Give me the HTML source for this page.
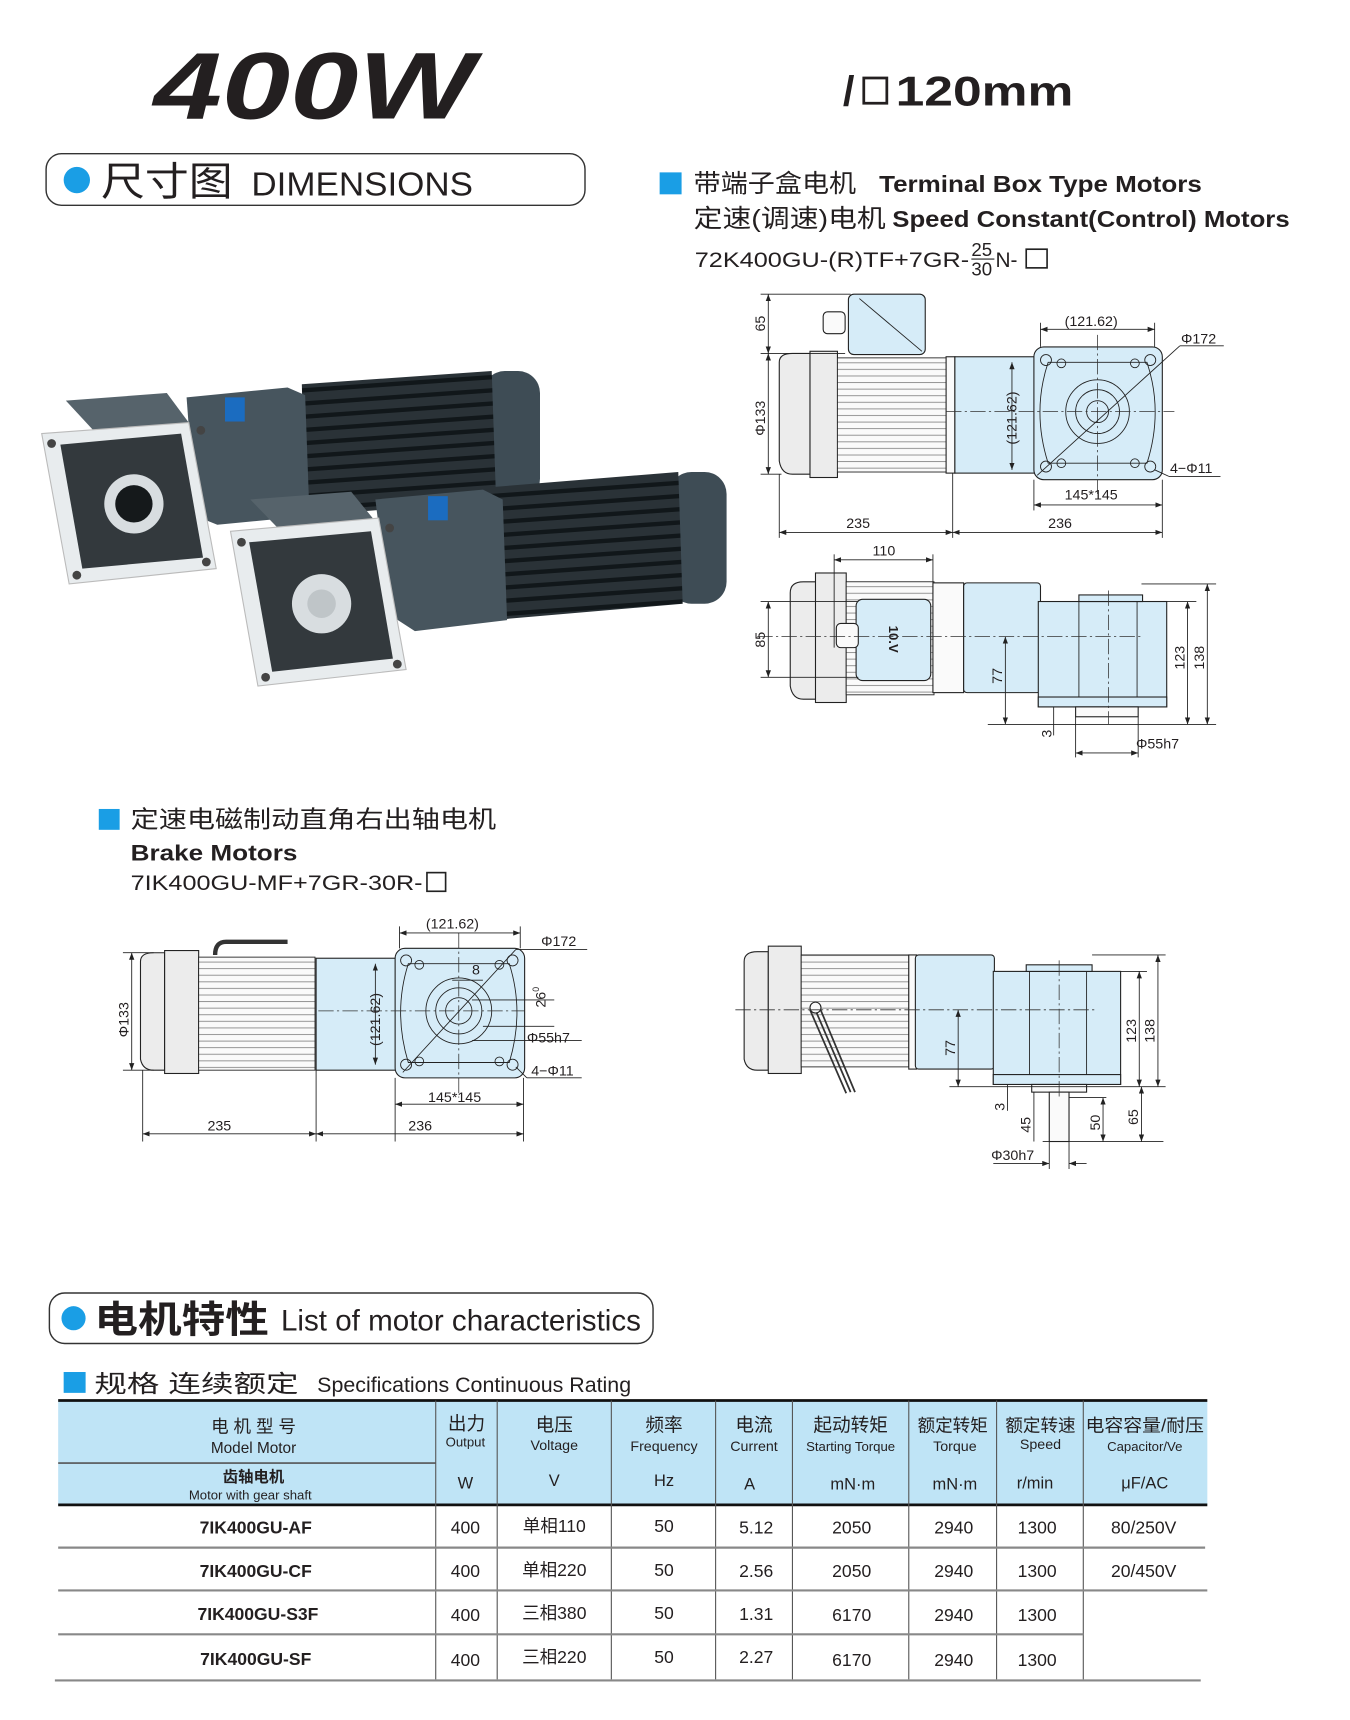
<!DOCTYPE html>
<html><head><meta charset="utf-8"><style>
html,body{margin:0;padding:0;background:#fff;}
svg{display:block}
text{font-family:"Liberation Sans","Noto Sans CJK SC",sans-serif;fill:#231f20}
.t{font-size:13px}
.ln{stroke:#222;stroke-width:0.8;fill:none}
.cl{stroke:#333;stroke-width:0.7;stroke-dasharray:14 3 2 3;fill:none}
.bl{fill:#d6ecf8;stroke:#222;stroke-width:1}
.gr{fill:#ececec;stroke:#222;stroke-width:1}
.wh{fill:#fafafa;stroke:#222;stroke-width:1}
</style></head><body>
<svg width="1350" height="1720" viewBox="0 0 1230 1567" xmlns="http://www.w3.org/2000/svg">
<defs>
<marker id="a" markerWidth="8" markerHeight="6" refX="8" refY="3" orient="auto-start-reverse"><path d="M0,0 L8,3 L0,6z" fill="#222"/></marker>
<pattern id="fin" width="6" height="6" patternUnits="userSpaceOnUse"><rect width="6" height="6" fill="#fafafa"/><line x1="0" y1="0.5" x2="6" y2="0.5" stroke="#888" stroke-width="0.8"/></pattern>
<pattern id="dfin" width="10" height="12" patternUnits="userSpaceOnUse" patternTransform="rotate(-4)"><rect width="10" height="12" fill="#2a3237"/><rect y="0" width="10" height="4" fill="#11171a"/></pattern>
</defs>

<!-- Title -->
<text x="140" y="108" textLength="292" lengthAdjust="spacingAndGlyphs" style="font-size:86px;font-weight:bold;font-style:italic">400W</text>
<text x="768" y="96" style="font-size:38px;font-weight:bold">/</text>
<rect x="787" y="71" width="21" height="23" fill="none" stroke="#231f20" stroke-width="2.5"/>
<text x="816" y="96" textLength="162" lengthAdjust="spacingAndGlyphs" style="font-size:38px;font-weight:bold">120mm</text>

<!-- Dimensions pill -->
<rect x="42" y="140" width="491" height="47" rx="14" fill="#fff" stroke="#333" stroke-width="1.3"/>
<circle cx="70" cy="164" r="12" fill="#1a9ee5"/>
<text x="92" y="178" textLength="120" lengthAdjust="spacingAndGlyphs" style="font-size:36px">尺寸图</text>
<text x="229" y="178" textLength="202" lengthAdjust="spacingAndGlyphs" style="font-size:30px">DIMENSIONS</text>

<!-- right header -->
<rect x="601" y="157" width="20" height="20" fill="#1a9ee5"/>
<text x="632" y="175" style="font-size:23px" textLength="148" lengthAdjust="spacingAndGlyphs">带端子盒电机</text>
<text x="801" y="175" style="font-size:21px;font-weight:bold" textLength="294" lengthAdjust="spacingAndGlyphs">Terminal Box Type Motors</text>
<text x="632" y="207" style="font-size:23px" textLength="175" lengthAdjust="spacingAndGlyphs">定速(调速)电机</text>
<text x="813" y="207" style="font-size:21px;font-weight:bold" textLength="362" lengthAdjust="spacingAndGlyphs">Speed Constant(Control) Motors</text>
<text x="633" y="243" style="font-size:19px" textLength="250" lengthAdjust="spacingAndGlyphs">72K400GU-(R)TF+7GR-</text>
<text x="885" y="233" style="font-size:17px">25</text>
<line x1="885" y1="236" x2="906" y2="236" stroke="#222"/>
<text x="885" y="251" style="font-size:17px">30</text>
<text x="907" y="243" style="font-size:19px">N-</text>
<rect x="935" y="227" width="19" height="17" fill="none" stroke="#222" stroke-width="1.5"/>

<!-- Photo motor 1 (back) -->
<g>
<rect x="440" y="338" width="52" height="118" rx="20" fill="#3e4c55"/>
<path d="M275 350 L448 338 L452 456 L278 470z" fill="url(#dfin)"/>
<path d="M170 362 L262 353 L278 360 L282 470 L198 478 L178 470z" fill="#47555e"/>
<rect x="205" y="362" width="18" height="22" fill="#1b6cc0"/>
<path d="M60 365 L152 358 L172 385 L85 392z" fill="#56636b"/>
<path d="M38 395 L172 385 L197 518 L63 532z" fill="#e8ecee" stroke="#bbb"/>
<path d="M55 405 L165 395 L185 508 L75 518z" fill="#33393d"/>
<circle cx="122" cy="459" r="27" fill="#d8dde0"/><circle cx="122" cy="459" r="17" fill="#15191b"/>
<circle cx="47" cy="404" r="4" fill="#444"/><circle cx="183" cy="392" r="4" fill="#444"/><circle cx="70" cy="524" r="4" fill="#444"/><circle cx="188" cy="512" r="4" fill="#444"/>
</g>
<!-- Photo motor 2 (front) -->
<g>
<rect x="610" y="430" width="52" height="120" rx="20" fill="#3e4c55"/>
<path d="M445 444 L618 430 L622 550 L448 565z" fill="url(#dfin)"/>
<path d="M342 455 L440 446 L458 455 L462 565 L378 575 L355 560z" fill="#47555e"/>
<rect x="390" y="452" width="18" height="22" fill="#1b6cc0"/>
<path d="M228 455 L320 448 L342 475 L255 483z" fill="#56636b"/>
<path d="M210 484 L345 472 L370 610 L235 625z" fill="#e8ecee" stroke="#bbb"/>
<path d="M227 494 L338 484 L358 600 L248 612z" fill="#33393d"/>
<circle cx="293" cy="550" r="27" fill="#d8dde0"/><circle cx="293" cy="550" r="13" fill="#bfc5c8"/>
<circle cx="220" cy="494" r="4" fill="#444"/><circle cx="355" cy="481" r="4" fill="#444"/><circle cx="242" cy="617" r="4" fill="#444"/><circle cx="362" cy="605" r="4" fill="#444"/>
</g>

<!-- Drawing 1: side view -->
<g>
<rect x="773" y="268" width="70" height="55" rx="5" class="bl"/>
<line x1="783" y1="272" x2="840" y2="320" class="ln"/>
<rect x="750" y="284" width="20" height="20" rx="4" class="wh"/>
<path d="M710 330 Q710 322 722 322 L738 322 L738 432 L722 432 Q712 432 710 420z" class="gr"/>
<rect x="738" y="320" width="25" height="115" class="gr"/>
<rect x="763" y="326" width="100" height="104" fill="url(#fin)" stroke="#222" stroke-width="0.8"/>
<rect x="862" y="325" width="8" height="106" class="wh"/>
<rect x="870" y="325" width="73" height="106" class="bl"/>
<rect x="942" y="316" width="117" height="121" rx="9" class="bl"/>
<path d="M955 330 Q940 375 955 422 L1045 422 Q1060 375 1045 330z" class="ln"/>
<circle cx="1000" cy="375" r="29" class="ln"/><circle cx="1000" cy="375" r="20" class="ln"/><circle cx="1000" cy="375" r="10" class="ln"/>
<circle cx="953" cy="328" r="5" class="ln"/><circle cx="1048" cy="328" r="5" class="ln"/><circle cx="953" cy="425" r="5" class="ln"/><circle cx="1048" cy="425" r="5" class="ln"/>
<circle cx="967" cy="331" r="4" class="ln"/><circle cx="1034" cy="331" r="4" class="ln"/><circle cx="967" cy="422" r="4" class="ln"/><circle cx="1034" cy="422" r="4" class="ln"/>
<line x1="945" y1="433" x2="1075" y2="315" class="ln"/>
<line x1="1075" y1="315" x2="1115" y2="315" class="ln"/>
<line x1="1052" y1="428" x2="1065" y2="434" class="ln"/><line x1="1065" y1="434" x2="1112" y2="434" class="ln"/>
<line x1="862" y1="375" x2="1070" y2="375" class="cl"/><line x1="1000" y1="305" x2="1000" y2="450" class="cl"/>
<line x1="693" y1="268" x2="775" y2="268" class="ln"/><line x1="693" y1="322" x2="770" y2="322" class="ln"/><line x1="693" y1="432" x2="712" y2="432" class="ln"/>
<line x1="700" y1="268" x2="700" y2="322" class="ln" marker-start="url(#a)" marker-end="url(#a)"/>
<line x1="700" y1="322" x2="700" y2="432" class="ln" marker-start="url(#a)" marker-end="url(#a)"/>
<text class="t" transform="translate(697,302) rotate(-90)">65</text>
<text class="t" transform="translate(697,397) rotate(-90)">Φ133</text>
<line x1="922" y1="330" x2="922" y2="428" class="ln" marker-start="url(#a)" marker-end="url(#a)"/>
<text class="t" transform="translate(926,405) rotate(-90)">(121.62)</text>
<line x1="948" y1="300" x2="1052" y2="300" class="ln" marker-start="url(#a)" marker-end="url(#a)"/>
<line x1="948" y1="294" x2="948" y2="316" class="ln"/><line x1="1052" y1="294" x2="1052" y2="316" class="ln"/>
<text class="t" x="970" y="297">(121.62)</text>
<text class="t" x="1076" y="313">Φ172</text>
<text class="t" x="1066" y="431">4−Φ11</text>
<line x1="942" y1="437" x2="942" y2="465" class="ln"/><line x1="1059" y1="437" x2="1059" y2="490" class="ln"/>
<line x1="942" y1="460" x2="1059" y2="460" class="ln" marker-start="url(#a)" marker-end="url(#a)"/>
<text class="t" x="970" y="455">145*145</text>
<line x1="710" y1="432" x2="710" y2="490" class="ln"/><line x1="868" y1="431" x2="868" y2="490" class="ln"/>
<line x1="710" y1="485" x2="868" y2="485" class="ln" marker-start="url(#a)" marker-end="url(#a)"/>
<line x1="868" y1="485" x2="1059" y2="485" class="ln" marker-start="url(#a)" marker-end="url(#a)"/>
<text class="t" x="771" y="481">235</text><text class="t" x="955" y="481">236</text>
</g>

<!-- Drawing 2: top view -->
<g>
<path d="M720 540 Q720 530 732 530 L744 530 L744 637 L732 637 Q722 637 720 625z" class="gr"/>
<rect x="743" y="522" width="28" height="118" class="gr"/>
<rect x="771" y="530" width="80" height="103" fill="url(#fin)" stroke="#222" stroke-width="0.8"/>
<rect x="780" y="546" width="68" height="74" rx="6" class="bl"/>
<text transform="translate(810,570) rotate(90)" style="font-size:12px;font-weight:bold">10.V</text>
<rect x="762" y="568" width="20" height="22" rx="4" class="wh"/>
<rect x="850" y="531" width="28" height="100" class="wh"/>
<rect x="878" y="531" width="70" height="100" rx="3" class="bl"/>
<rect x="946" y="548" width="117" height="96" class="bl"/>
<rect x="946" y="635" width="117" height="9" class="bl"/>
<rect x="983" y="542" width="58" height="6" class="bl"/>
<line x1="983" y1="548" x2="983" y2="635" class="ln"/><line x1="1036" y1="548" x2="1036" y2="635" class="ln"/>
<rect x="980" y="644" width="57" height="9" class="wh"/>
<line x1="690" y1="580" x2="1040" y2="580" class="cl"/><line x1="1010" y1="538" x2="1010" y2="660" class="cl"/>
<line x1="760" y1="505" x2="760" y2="590" class="ln"/><line x1="850" y1="505" x2="850" y2="540" class="ln"/>
<line x1="760" y1="510" x2="850" y2="510" class="ln" marker-start="url(#a)" marker-end="url(#a)"/>
<text class="t" x="795" y="506">110</text>
<line x1="693" y1="548" x2="782" y2="548" class="ln"/><line x1="693" y1="617" x2="782" y2="617" class="ln"/>
<line x1="700" y1="548" x2="700" y2="617" class="ln" marker-start="url(#a)" marker-end="url(#a)"/>
<text class="t" transform="translate(697,590) rotate(-90)">85</text>
<line x1="916" y1="580" x2="916" y2="660" class="ln" marker-start="url(#a)" marker-end="url(#a)"/>
<text class="t" transform="translate(913,623) rotate(-90)">77</text>
<line x1="900" y1="660" x2="1108" y2="660" class="ln"/>
<line x1="1063" y1="548" x2="1090" y2="548" class="ln"/><line x1="1040" y1="532" x2="1108" y2="532" class="ln"/>
<line x1="1082" y1="548" x2="1082" y2="660" class="ln" marker-start="url(#a)" marker-end="url(#a)"/>
<line x1="1100" y1="532" x2="1100" y2="660" class="ln" marker-start="url(#a)" marker-end="url(#a)"/>
<text class="t" transform="translate(1079,610) rotate(-90)">123</text>
<text class="t" transform="translate(1097,610) rotate(-90)">138</text>
<line x1="960" y1="644" x2="960" y2="670" class="ln"/>
<text class="t" transform="translate(958,672) rotate(-90)">3</text>
<line x1="980" y1="653" x2="980" y2="690" class="ln"/><line x1="1037" y1="653" x2="1037" y2="690" class="ln"/>
<line x1="980" y1="686" x2="1037" y2="686" class="ln" marker-start="url(#a)" marker-end="url(#a)"/>
<text class="t" x="1035" y="682">Φ55h7</text>
</g>

<!-- Brake header -->
<rect x="90" y="737" width="19" height="19" fill="#1a9ee5"/>
<text x="119" y="754" style="font-size:22px" textLength="333" lengthAdjust="spacingAndGlyphs">定速电磁制动直角右出轴电机</text>
<text x="119" y="784" style="font-size:20px;font-weight:bold" textLength="152" lengthAdjust="spacingAndGlyphs">Brake Motors</text>
<text x="119" y="811" style="font-size:19px" textLength="266" lengthAdjust="spacingAndGlyphs">7IK400GU-MF+7GR-30R-</text>
<rect x="389" y="795" width="17" height="17" fill="none" stroke="#222" stroke-width="1.5"/>

<!-- Brake drawing left -->
<g>
<path d="M196 870 Q196 858 206 858 L262 858" stroke="#333" stroke-width="4" fill="none"/>
<path d="M128 876 Q128 868 140 868 L150 868 L150 975 L140 975 Q130 975 128 965z" class="gr"/>
<rect x="150" y="866" width="31" height="112" class="gr"/>
<rect x="181" y="872" width="106" height="103" fill="url(#fin)" stroke="#222" stroke-width="0.8"/>
<rect x="288" y="873" width="73" height="102" class="bl"/>
<rect x="360" y="864" width="118" height="118" rx="9" class="bl"/>
<path d="M372 878 Q358 922 372 968 L464 968 Q478 922 464 878z" class="ln"/>
<circle cx="418" cy="921" r="30" class="ln"/><circle cx="418" cy="921" r="21" class="ln"/><circle cx="418" cy="921" r="12" class="ln"/>
<circle cx="370" cy="875" r="5" class="ln"/><circle cx="467" cy="875" r="5" class="ln"/><circle cx="370" cy="970" r="5" class="ln"/><circle cx="467" cy="970" r="5" class="ln"/>
<circle cx="382" cy="879" r="4" class="ln"/><circle cx="455" cy="879" r="4" class="ln"/><circle cx="382" cy="967" r="4" class="ln"/><circle cx="455" cy="967" r="4" class="ln"/>
<line x1="367" y1="977" x2="470" y2="865" class="ln"/><line x1="470" y1="865" x2="535" y2="865" class="ln"/>
<line x1="470" y1="972" x2="480" y2="982" class="ln"/><line x1="480" y1="982" x2="530" y2="982" class="ln"/>
<line x1="290" y1="921" x2="478" y2="921" class="cl"/><line x1="418" y1="850" x2="418" y2="1000" class="cl"/>
<line x1="112" y1="868" x2="140" y2="868" class="ln"/><line x1="112" y1="975" x2="140" y2="975" class="ln"/>
<line x1="120" y1="868" x2="120" y2="975" class="ln" marker-start="url(#a)" marker-end="url(#a)"/>
<text class="t" transform="translate(117,945) rotate(-90)">Φ133</text>
<line x1="342" y1="878" x2="342" y2="970" class="ln" marker-start="url(#a)" marker-end="url(#a)"/>
<text class="t" transform="translate(346,953) rotate(-90)">(121.62)</text>
<line x1="364" y1="850" x2="474" y2="850" class="ln" marker-start="url(#a)" marker-end="url(#a)"/>
<line x1="364" y1="844" x2="364" y2="864" class="ln"/><line x1="474" y1="844" x2="474" y2="864" class="ln"/>
<text class="t" x="388" y="846">(121.62)</text>
<text class="t" x="493" y="862">Φ172</text>
<text class="t" x="430" y="888">8</text>
<line x1="412" y1="893" x2="440" y2="893" class="ln"/>
<line x1="430" y1="911" x2="505" y2="911" class="ln"/><line x1="440" y1="935" x2="505" y2="935" class="ln"/>
<text class="t" transform="translate(497,918) rotate(-90)">26<tspan style="font-size:8px" dy="-6">0</tspan></text>
<line x1="430" y1="948" x2="530" y2="948" class="ln"/>
<text class="t" x="480" y="950">Φ55h7</text>
<text class="t" x="484" y="980">4−Φ11</text>
<line x1="360" y1="982" x2="360" y2="1040" class="ln"/><line x1="477" y1="982" x2="477" y2="1040" class="ln"/>
<line x1="360" y1="1006" x2="477" y2="1006" class="ln" marker-start="url(#a)" marker-end="url(#a)"/>
<text class="t" x="390" y="1004">145*145</text>
<line x1="130" y1="975" x2="130" y2="1040" class="ln"/><line x1="288" y1="975" x2="288" y2="1040" class="ln"/>
<line x1="130" y1="1033" x2="288" y2="1033" class="ln" marker-start="url(#a)" marker-end="url(#a)"/>
<line x1="288" y1="1033" x2="477" y2="1033" class="ln" marker-start="url(#a)" marker-end="url(#a)"/>
<text class="t" x="189" y="1030">235</text><text class="t" x="372" y="1030">236</text>
</g>

<!-- Brake drawing right -->
<g>
<path d="M678 876 Q678 867 690 867 L700 867 L700 975 L690 975 Q680 975 678 965z" class="gr"/>
<rect x="700" y="862" width="30" height="116" class="gr"/>
<rect x="730" y="870" width="98" height="102" fill="url(#fin)" stroke="#222" stroke-width="0.8"/>
<rect x="828" y="870" width="7" height="104" class="wh"/>
<rect x="834" y="870" width="72" height="104" rx="3" class="bl"/>
<rect x="905" y="885" width="116" height="103" class="bl"/>
<rect x="905" y="979" width="116" height="9" class="bl"/>
<rect x="935" y="879" width="60" height="6" class="bl"/>
<line x1="938" y1="885" x2="938" y2="979" class="ln"/><line x1="990" y1="885" x2="990" y2="979" class="ln"/>
<rect x="940" y="988" width="50" height="7" class="wh"/>
<rect x="956" y="995" width="18" height="45" class="wh"/>
<path d="M742 918 L775 995 M746 916 L779 995 M738 920 L771 996" stroke="#333" stroke-width="1.6" fill="none"/>
<circle cx="743" cy="918" r="5" class="wh"/>
<line x1="670" y1="920" x2="1000" y2="920" class="cl"/><line x1="965" y1="875" x2="965" y2="1000" class="cl"/>
<line x1="873" y1="920" x2="873" y2="990" class="ln" marker-start="url(#a)" marker-end="url(#a)"/>
<text class="t" transform="translate(870,962) rotate(-90)">77</text>
<line x1="865" y1="990" x2="1062" y2="990" class="ln"/>
<line x1="1021" y1="885" x2="1045" y2="885" class="ln"/><line x1="995" y1="870" x2="1062" y2="870" class="ln"/>
<line x1="1038" y1="885" x2="1038" y2="990" class="ln" marker-start="url(#a)" marker-end="url(#a)"/>
<line x1="1055" y1="870" x2="1055" y2="990" class="ln" marker-start="url(#a)" marker-end="url(#a)"/>
<text class="t" transform="translate(1035,950) rotate(-90)">123</text>
<text class="t" transform="translate(1052,950) rotate(-90)">138</text>
<line x1="918" y1="988" x2="918" y2="1012" class="ln"/>
<text class="t" transform="translate(915,1012) rotate(-90)">3</text>
<line x1="942" y1="995" x2="942" y2="1040" class="ln"/>
<text class="t" transform="translate(939,1032) rotate(-90)">45</text>
<line x1="974" y1="1000" x2="1008" y2="1000" class="ln"/><line x1="950" y1="1040" x2="1060" y2="1040" class="ln"/>
<line x1="1005" y1="1000" x2="1005" y2="1040" class="ln" marker-start="url(#a)" marker-end="url(#a)"/>
<text class="t" transform="translate(1002,1030) rotate(-90)">50</text>
<line x1="1040" y1="990" x2="1040" y2="1040" class="ln" marker-start="url(#a)" marker-end="url(#a)"/>
<text class="t" transform="translate(1037,1025) rotate(-90)">65</text>
<line x1="956" y1="1040" x2="956" y2="1065" class="ln"/><line x1="974" y1="1040" x2="974" y2="1065" class="ln"/>
<line x1="905" y1="1060" x2="956" y2="1060" class="ln" marker-end="url(#a)"/>
<line x1="990" y1="1060" x2="974" y2="1060" class="ln" marker-end="url(#a)"/>
<text class="t" x="903" y="1057">Φ30h7</text>
</g>

<!-- Motor characteristics pill -->
<rect x="45" y="1178" width="550" height="46" rx="14" fill="#fff" stroke="#333" stroke-width="1.3"/>
<circle cx="67" cy="1201" r="11" fill="#1a9ee5"/>
<text x="86" y="1214" style="font-size:34px;font-weight:bold" textLength="159" lengthAdjust="spacingAndGlyphs">电机特性</text>
<text x="256" y="1212" style="font-size:27px" textLength="328" lengthAdjust="spacingAndGlyphs">List of motor characteristics</text>

<rect x="58" y="1250" width="20" height="19" fill="#1a9ee5"/>
<text x="86" y="1268" style="font-size:22px" textLength="186" lengthAdjust="spacingAndGlyphs">规格  连续额定</text>
<text x="289" y="1268" style="font-size:19px" textLength="286" lengthAdjust="spacingAndGlyphs">Specifications  Continuous Rating</text>

<!-- Table -->
<rect x="53" y="1276" width="1047" height="95" fill="#bfe4f6"/>
<line x1="53" y1="1276" x2="1100" y2="1276" stroke="#111" stroke-width="2.5"/>
<line x1="53" y1="1371" x2="1100" y2="1371" stroke="#111" stroke-width="2.5"/>
<line x1="53" y1="1333" x2="397" y2="1333" stroke="#555" stroke-width="1.5"/>
<g stroke="#555" stroke-width="1">
<line x1="397" y1="1276" x2="397" y2="1530"/><line x1="453" y1="1276" x2="453" y2="1530"/>
<line x1="557" y1="1276" x2="557" y2="1530"/><line x1="652" y1="1276" x2="652" y2="1530"/>
<line x1="722" y1="1276" x2="722" y2="1530"/><line x1="828" y1="1276" x2="828" y2="1530"/>
<line x1="908" y1="1276" x2="908" y2="1530"/><line x1="987" y1="1276" x2="987" y2="1530"/>
</g>
<g stroke="#888" stroke-width="2">
<line x1="53" y1="1410" x2="1098" y2="1410"/><line x1="53" y1="1449" x2="1100" y2="1449"/>
<line x1="53" y1="1489" x2="987" y2="1489"/><line x1="50" y1="1531" x2="1094" y2="1531"/>
</g>
<g text-anchor="middle">
<text x="231" y="1305" style="font-size:16px">电 机 型 号</text>
<text x="231" y="1324" style="font-size:14px">Model Motor</text>
<text x="231" y="1350" style="font-size:14px;font-weight:bold">齿轴电机</text>
<text x="228" y="1366" style="font-size:12px">Motor with gear shaft</text>
<text x="425" y="1303" style="font-size:17px">出力</text><text x="424" y="1318" style="font-size:12px">Output</text>
<text x="505" y="1304" style="font-size:17px">电压</text><text x="505" y="1321" style="font-size:13px">Voltage</text>
<text x="605" y="1304" style="font-size:17px">频率</text><text x="605" y="1322" style="font-size:13px">Frequency</text>
<text x="687" y="1304" style="font-size:17px">电流</text><text x="687" y="1322" style="font-size:13px">Current</text>
<text x="775" y="1304" style="font-size:17px">起动转矩</text><text x="775" y="1322" style="font-size:12px">Starting Torque</text>
<text x="868" y="1304" style="font-size:16px">额定转矩</text><text x="870" y="1322" style="font-size:13px">Torque</text>
<text x="948" y="1304" style="font-size:16px">额定转速</text><text x="948" y="1320" style="font-size:13px">Speed</text>
<text x="1043" y="1304" style="font-size:16px" textLength="108" lengthAdjust="spacingAndGlyphs">电容容量/耐压</text><text x="1043" y="1322" style="font-size:12px">Capacitor/Ve</text>
<text x="424" y="1356" style="font-size:15px">W</text><text x="505" y="1354" style="font-size:15px">V</text>
<text x="605" y="1354" style="font-size:15px">Hz</text><text x="683" y="1357" style="font-size:15px">A</text>
<text x="777" y="1357" style="font-size:15px">mN·m</text><text x="870" y="1357" style="font-size:15px">mN·m</text>
<text x="943" y="1356" style="font-size:15px">r/min</text><text x="1043" y="1356" style="font-size:15px">μF/AC</text>
</g>
<g text-anchor="middle" style="font-size:16px">
<text x="233" y="1397" style="font-weight:bold">7IK400GU-AF</text><text x="424" y="1397">400</text><text x="505" y="1396">单相110</text><text x="605" y="1396">50</text><text x="689" y="1397">5.12</text><text x="776" y="1397">2050</text><text x="869" y="1397">2940</text><text x="945" y="1397">1300</text><text x="1042" y="1397">80/250V</text>
<text x="233" y="1437" style="font-weight:bold">7IK400GU-CF</text><text x="424" y="1437">400</text><text x="505" y="1436">单相220</text><text x="605" y="1436">50</text><text x="689" y="1437">2.56</text><text x="776" y="1437">2050</text><text x="869" y="1437">2940</text><text x="945" y="1437">1300</text><text x="1042" y="1437">20/450V</text>
<text x="235" y="1476" style="font-weight:bold">7IK400GU-S3F</text><text x="424" y="1477">400</text><text x="505" y="1475">三相380</text><text x="605" y="1475">50</text><text x="689" y="1476">1.31</text><text x="776" y="1477">6170</text><text x="869" y="1477">2940</text><text x="945" y="1477">1300</text>
<text x="233" y="1517" style="font-weight:bold">7IK400GU-SF</text><text x="424" y="1518">400</text><text x="505" y="1515">三相220</text><text x="605" y="1515">50</text><text x="689" y="1515">2.27</text><text x="776" y="1518">6170</text><text x="869" y="1518">2940</text><text x="945" y="1518">1300</text>
</g>
</svg>
</body></html>
